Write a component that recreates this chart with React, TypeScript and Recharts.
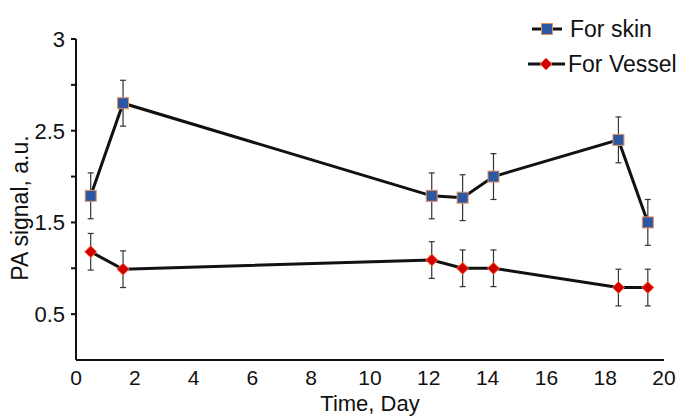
import React from "react";
import {
  LineChart,
  Line,
  XAxis,
  YAxis,
  ErrorBar,
  Legend,
  Label,
} from "recharts";

const days = [0.5, 1.6, 12.1, 13.15, 14.2, 18.45, 19.45];
const skin = [1.79, 2.8, 1.79, 1.77, 2.0, 2.4, 1.5];
const skinErr = [0.25, 0.25, 0.25, 0.25, 0.25, 0.25, 0.25];
const vessel = [1.18, 0.99, 1.09, 1.0, 1.0, 0.79, 0.79];
const vesselErr = [0.2, 0.2, 0.2, 0.2, 0.2, 0.2, 0.2];

const xTicks = [0, 2, 4, 6, 8, 10, 12, 14, 16, 18, 20];
const yTicks = [0.5, 1, 1.5, 2, 2.5, 3, 3.5];
const yTickLabels = ["0.5", "", "1.5", "", "2.5", "", "3"];

const seriesNames = ["For skin", "For Vessel"];

const data = days.map((d, i) => ({
  day: d,
  skin: skin[i],
  skinErr: skinErr[i],
  vessel: vessel[i],
  vesselErr: vesselErr[i],
}));

const FONT = '"Liberation Sans", Arial, sans-serif';
const SKIN_FILL = "#2c57a3";
const SKIN_EDGE = "#e8925a";
const VESSEL_FILL = "#d40000";
const VESSEL_EDGE = "#f2763a";

const Square = ({ cx, cy }: { cx: number; cy: number }) => (
  <rect x={cx - 5.5} y={cy - 5.5} width={11} height={11} fill={SKIN_FILL} stroke={SKIN_EDGE} strokeWidth={1} />
);

const Diamond = ({ cx, cy }: { cx: number; cy: number }) => (
  <path d={`M${cx},${cy - 6} L${cx + 6},${cy} L${cx},${cy + 6} L${cx - 6},${cy} Z`} fill={VESSEL_FILL} stroke={VESSEL_EDGE} strokeWidth={1} />
);

const LegendBox = () => (
  <svg width={174} height={80} style={{ display: "block" }}>
    <line x1={7} y1={21} x2={37} y2={21} stroke="#111" strokeWidth={3} />
    <Square cx={22} cy={21} />
    <text x={45} y={21} dy="0.35em" fontSize={23} fontFamily={FONT} fill="#111">
      {seriesNames[0]}
    </text>
    <line x1={3} y1={56} x2={40} y2={56} stroke="#111" strokeWidth={3} />
    <Diamond cx={21} cy={56} />
    <text x={43} y={56} dy="0.35em" fontSize={23} fontFamily={FONT} fill="#111">
      {seriesNames[1]}
    </text>
  </svg>
);

export default function App() {
  return (
    <div style={{ position: "absolute", left: 0, top: 0, fontFamily: FONT }}>
      <LineChart width={699} height={419} data={data} margin={{ top: 39, right: 35, bottom: 9, left: 26 }}>
        <XAxis
          dataKey="day"
          type="number"
          domain={[0, 20]}
          ticks={xTicks}
          tickLine={false}
          tickSize={6}
          tickMargin={4}
          height={50}
          axisLine={{ stroke: "#111", strokeWidth: 2 }}
          tick={{ fill: "#111", fontSize: 21, fontFamily: FONT }}
        >
          <Label value="Time, Day" position="insideBottom" offset={-1} fill="#111" fontSize={22} fontFamily={FONT} />
        </XAxis>
        <YAxis
          type="number"
          domain={[0, 3.5]}
          ticks={yTicks}
          width={50}
          tickSize={5}
          tickMargin={6}
          axisLine={{ stroke: "#111", strokeWidth: 2 }}
          tickLine={{ stroke: "#111", strokeWidth: 2 }}
          tick={{ fill: "#111", fontSize: 22, fontFamily: FONT }}
          tickFormatter={(v: number) => yTickLabels[yTicks.indexOf(v)] ?? ""}
          label={{
            content: () => (
              <text
                x={20}
                y={208}
                dy="0.35em"
                textAnchor="middle"
                transform="rotate(-90, 20, 208)"
                fontSize={23}
                fontFamily={FONT}
                fill="#111"
              >
                PA signal, a.u.
              </text>
            ),
          }}
        />
        <Legend
          layout="vertical"
          align="center"
          verticalAlign="middle"
          wrapperStyle={{ left: 525, top: 8, width: 174 }}
          content={() => <LegendBox />}
        />
        <Line
          dataKey="skin"
          name={seriesNames[0]}
          stroke="#111"
          strokeWidth={3}
          isAnimationActive={false}
          dot={(p: any) => <Square key={`s${p.index}`} cx={p.cx} cy={p.cy} />}
          activeDot={false}
        >
          <ErrorBar dataKey="skinErr" direction="y" width={3} stroke="#333" strokeWidth={1.2} isAnimationActive={false} />
        </Line>
        <Line
          dataKey="vessel"
          name={seriesNames[1]}
          stroke="#111"
          strokeWidth={3}
          isAnimationActive={false}
          dot={(p: any) => <Diamond key={`v${p.index}`} cx={p.cx} cy={p.cy} />}
          activeDot={false}
        >
          <ErrorBar dataKey="vesselErr" direction="y" width={3} stroke="#333" strokeWidth={1.2} isAnimationActive={false} />
        </Line>
      </LineChart>
    </div>
  );
}
